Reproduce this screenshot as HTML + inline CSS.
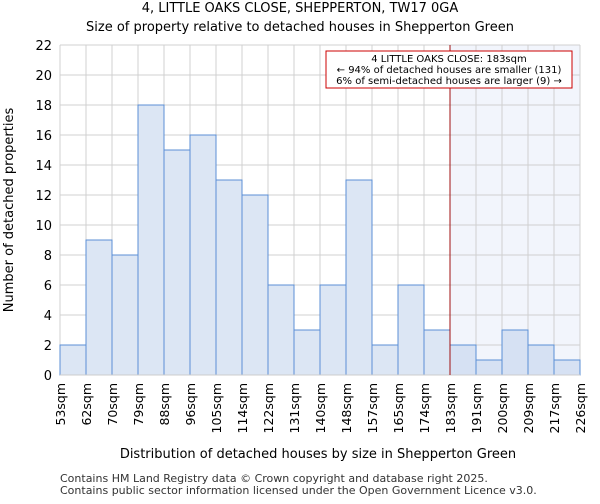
<!DOCTYPE html>
<html><head><meta charset="utf-8"><style>
body{margin:0;background:#fff;font-family:"DejaVu Sans","Liberation Sans",sans-serif}
</style></head><body>
<svg id="c" width="600" height="500" xmlns="http://www.w3.org/2000/svg" font-family="DejaVu Sans, Liberation Sans, sans-serif">
<text x="300" y="12" text-anchor="middle" font-size="13">4, LITTLE OAKS CLOSE, SHEPPERTON, TW17 0GA</text>
<text x="300" y="31" text-anchor="middle" font-size="13">Size of property relative to detached houses in Shepperton Green</text>
<g id="plot"></g>
<text x="318" y="458" text-anchor="middle" font-size="13">Distribution of detached houses by size in Shepperton Green</text>
<text transform="translate(13,210) rotate(-90)" text-anchor="middle" font-size="13">Number of detached properties</text>
<text x="60" y="482" font-size="11" fill="#333">Contains HM Land Registry data © Crown copyright and database right 2025.</text>
<text x="60" y="494" font-size="11" fill="#333">Contains public sector information licensed under the Open Government Licence v3.0.</text>
</svg>
<script>
const binLabels=["53sqm","62sqm","70sqm","79sqm","88sqm","96sqm","105sqm","114sqm","122sqm","131sqm","140sqm","148sqm","157sqm","165sqm","174sqm","183sqm","191sqm","200sqm","209sqm","217sqm","226sqm"];
const counts=[2,9,8,18,15,16,13,12,6,3,6,13,2,6,3,2,1,3,2,1];
const yTicks=[0,2,4,6,8,10,12,14,16,18,20,22];
const markerBin=15;
const NS="http://www.w3.org/2000/svg";
const g=document.getElementById('plot');
const X0=60,X1=580,Y0=375,Y1=45,YMAX=22;
const bw=(X1-X0)/counts.length;
const xs=i=>X0+i*bw;
const ys=v=>Y0-(v/YMAX)*(Y0-Y1);
function mk(t,a){const e=document.createElementNS(NS,t);for(const k in a)e.setAttribute(k,a[k]);g.appendChild(e);return e;}
let e=mk('rect',{x:xs(markerBin),y:Y1,width:X1-xs(markerBin),height:Y0-Y1,fill:'#f2f5fc'});


yTicks.forEach(t=>{
 let l=mk('line',{x1:X0,x2:X1,y1:ys(t),y2:ys(t),stroke:'#d0d0d0','stroke-width':1});
 
 
 let tx=mk('text',{x:X0-8,y:ys(t)+5,'text-anchor':'end','font-size':13});
 tx.textContent=t;
 
 
});
binLabels.forEach((s,i)=>{
 let l=mk('line',{x1:xs(i),x2:xs(i),y1:Y1,y2:Y0,stroke:'#d0d0d0','stroke-width':1});
 
 
 let tx=mk('text',{transform:`translate(${xs(i)+5},${Y0+8}) rotate(-90)`,'text-anchor':'end','font-size':12.5});
 tx.textContent=s;
 
 
});
counts.forEach((v,i)=>{
 let r=mk('rect',{x:xs(i),y:ys(v),width:bw,height:Y0-ys(v),fill:i>=markerBin?'#d6e1f3':'#dce6f4',stroke:'#5b8fd6','stroke-width':1});
 
 
});
let ax=mk('line',{x1:X0,x2:X1,y1:Y0,y2:Y0,stroke:'#ccc'});


let ml=mk('line',{x1:xs(markerBin),x2:xs(markerBin),y1:Y1,y2:Y0,stroke:'#a01010','stroke-width':1});


let box=mk('rect',{x:326,y:51,width:246,height:37,fill:'#fff',stroke:'#cc0000','stroke-width':1});


[["4 LITTLE OAKS CLOSE: 183sqm",62],["← 94% of detached houses are smaller (131)",73],["6% of semi-detached houses are larger (9) →",84]].forEach(([s,y])=>{
 let t=mk('text',{x:449,y:y,'text-anchor':'middle','font-size':10});
 t.textContent=s;
 
 
});
</script>
</body></html>
